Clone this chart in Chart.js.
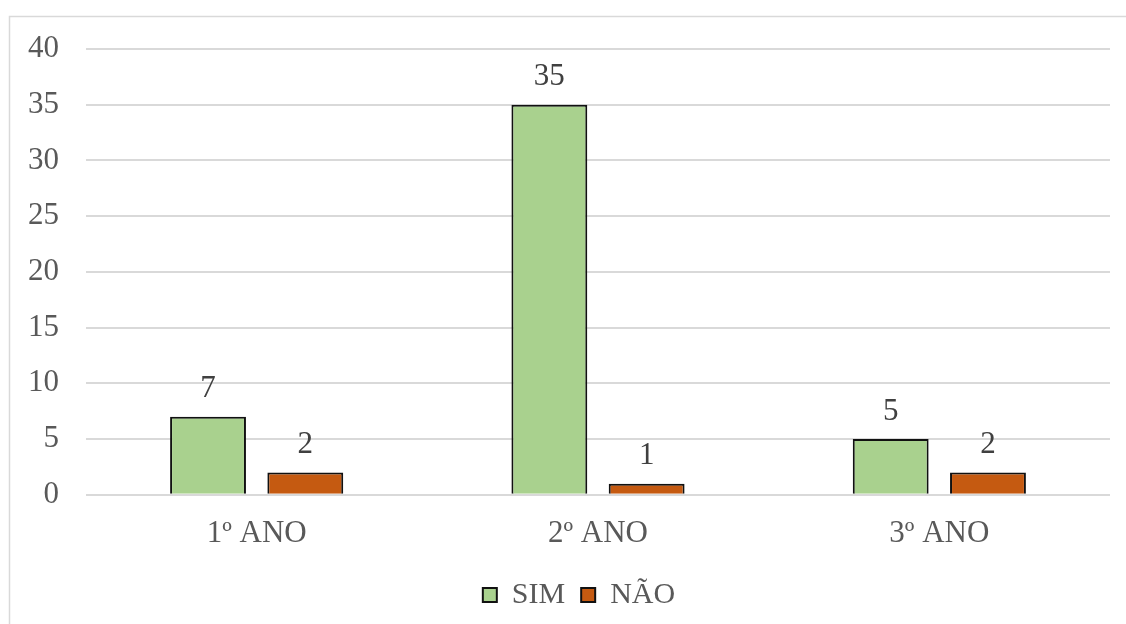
<!DOCTYPE html>
<html>
<head>
<meta charset="utf-8">
<script src="https://cdn.jsdelivr.net/npm/chart.js@4.4.1/dist/chart.umd.min.js"></script>
<style>
  html, body { margin: 0; padding: 0; background: #ffffff; }
  #wrap { position: relative; width: 1126px; height: 624px; }
</style>
</head>
<body>
<div id="wrap"><canvas id="chart" width="1126" height="624"></canvas></div>
<script>
// Respostas por ano
const categories = ['1º ANO', '2º ANO', '3º ANO'];
const simValues = [7, 35, 5];
const naoValues = [2, 1, 2];
const seriesNames = ['SIM', 'NÃO'];
const yTicks = [0, 5, 10, 15, 20, 25, 30, 35, 40];

const FONT = '"Liberation Serif", "Times New Roman", serif';
const TEXT = '#595959';

// Outer frame of the chart, and the legend nudged towards the plot centre
const framePlugin = {
  id: 'frame',
  afterLayout(chart) {
    if (chart.legend) chart.legend.left += 48;
  },
  beforeDraw(chart) {
    const ctx = chart.ctx;
    ctx.save();
    ctx.fillStyle = '#ffffff';
    ctx.fillRect(0, 0, chart.width, chart.height);
    ctx.strokeStyle = '#d9d9d9';
    ctx.lineWidth = 1.5;
    ctx.strokeRect(9.5, 16.5, 1300, 800);
    ctx.restore();
  }
};

// Value labels above each bar
const valueLabels = {
  id: 'valueLabels',
  afterDatasetsDraw(chart) {
    const ctx = chart.ctx;
    ctx.save();
    ctx.font = '31px ' + FONT;
    ctx.fillStyle = '#404040';
    ctx.textAlign = 'center';
    ctx.textBaseline = 'bottom';
    chart.data.datasets.forEach((ds, i) => {
      const meta = chart.getDatasetMeta(i);
      meta.data.forEach((bar, j) => {
        ctx.fillText(String(ds.data[j]), bar.x, bar.y - 12);
      });
    });
    ctx.restore();
  }
};

new Chart(document.getElementById('chart'), {
  type: 'bar',
  data: {
    labels: categories,
    datasets: [
      {
        label: seriesNames[0],
        data: simValues,
        backgroundColor: '#A9D18E',
        borderColor: '#111111',
        borderWidth: 2,
        borderSkipped: 'start'
      },
      {
        label: seriesNames[1],
        data: naoValues,
        backgroundColor: '#C55A11',
        borderColor: '#111111',
        borderWidth: 2,
        borderSkipped: 'start'
      }
    ]
  },
  options: {
    responsive: false,
    animation: false,
    devicePixelRatio: 1,
    layout: { padding: { top: 49, right: 16, left: 0, bottom: 4 } },
    datasets: {
      bar: { categoryPercentage: 0.57, barPercentage: 0.78 }
    },
    scales: {
      x: {
        grid: { display: false },
        border: { display: false },
        ticks: { color: TEXT, font: { family: FONT, size: 31 }, padding: 12 }
      },
      y: {
        min: 0,
        max: 40,
        afterFit(scale) { scale.width = 86; },
        afterBuildTicks(scale) { scale.ticks = yTicks.map(v => ({ value: v })); },
        grid: { color: '#d9d9d9', lineWidth: 2, drawTicks: false },
        border: { display: false },
        ticks: { color: TEXT, font: { family: FONT, size: 31 }, padding: 27 }
      }
    },
    plugins: {
      legend: {
        position: 'bottom',
        labels: {
          color: TEXT,
          font: { family: FONT, size: 30 },
          boxWidth: 14,
          boxHeight: 14,
          padding: 16
        }
      },
      tooltip: { enabled: false }
    }
  },
  plugins: [framePlugin, valueLabels]
});
</script>
</body>
</html>
